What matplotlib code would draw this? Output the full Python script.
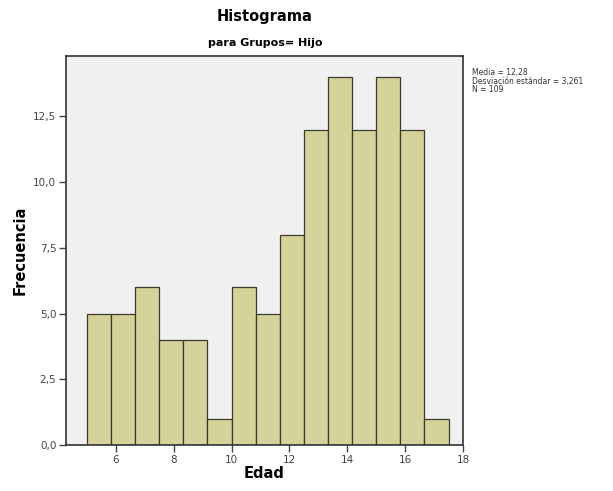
import matplotlib
matplotlib.use("Agg")
import matplotlib.pyplot as plt
import numpy as np

# histogram data (Edad, Grupos = Hijo)
bin_start = 5.0
bin_width = 12.5 / 15
counts = [5, 5, 6, 4, 4, 1, 6, 5, 8, 12, 14, 12, 14, 12, 1]
x_ticks = [6, 8, 10, 12, 14, 16, 18]
y_ticks = [0.0, 2.5, 5.0, 7.5, 10.0, 12.5]
stats_text = ["Media = 12,28", "Desviación estándar = 3,261", "N = 109"]

fig = plt.figure(figsize=(6.13, 4.91), dpi=100)
ax = fig.add_axes([66 / 613, 46 / 491, 397 / 613, 389 / 491])
ax.set_facecolor("#f1f0f1")

edges = bin_start + bin_width * np.arange(len(counts))
ax.bar(edges, counts, width=bin_width, align="edge",
       color="#d5d29a", edgecolor="#3a3a2a", linewidth=0.9)

ax.set_xlim(4.28, 18.0)
ax.set_ylim(0, 14.8)
ax.set_xticks(x_ticks)
ax.set_yticks(y_ticks)
ax.set_yticklabels([("%.1f" % v).replace(".", ",") for v in y_ticks])
ax.tick_params(direction="out", length=5, width=1, labelsize=7.5, colors="#444444", pad=2)
for s in ax.spines.values():
    s.set_color("#333333")
    s.set_linewidth(1.2)

ax.set_xlabel("Edad", fontsize=10.5, fontweight="bold", labelpad=1)
ax.set_ylabel("Frecuencia", fontsize=10.5, fontweight="bold", labelpad=4)

fig.text(265 / 613, 1 - 17 / 491, "Histograma", ha="center", va="center",
         fontsize=10.5, fontweight="bold")
fig.text(265 / 613, 1 - 43 / 491, "para Grupos= Hijo", ha="center", va="center",
         fontsize=8, fontweight="bold")
fig.text(472 / 613, 1 - 68 / 491, "\n".join(stats_text), ha="left", va="top",
         fontsize=5.5, linespacing=0.95, color="#333333")

fig.savefig("out.png", dpi=100, facecolor="white")
